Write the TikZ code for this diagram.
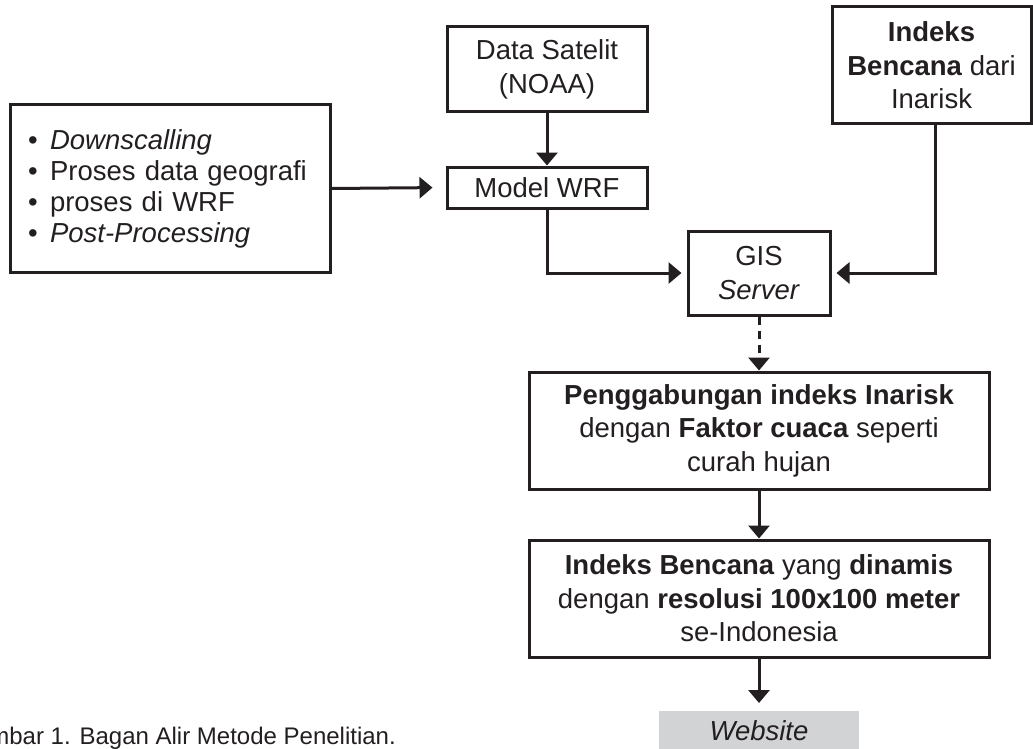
\documentclass[tikz,border=0pt]{standalone}
\usepackage{fontspec}
\setmainfont{Liberation Sans}
\usetikzlibrary{arrows.meta}
\definecolor{ink}{HTML}{231F20}
\definecolor{webgray}{HTML}{D1D3D4}
\newcommand{\blt}{\hspace*{8pt}\textbullet\hspace{12.4pt}}
\tikzset{
  flowbox/.style={draw=ink, line width=3pt, inner sep=0pt, align=center,
    text=ink, font=\fontsize{27.5}{33.5}\selectfont},
  link/.style={draw=ink, line width=3pt, -{Triangle[width=21pt,length=13pt]}},
  dashlink/.style={link, dash pattern=on 8pt off 6pt},
}
\begin{document}
\begin{tikzpicture}[x=1pt, y=-1pt]
\useasboundingbox (0,0) rectangle (1033,749);
\clip (0,0) rectangle (1033,749);

% process steps
\node[flowbox, minimum width=320pt, minimum height=167pt, align=left, text width=300pt,
  inner xsep=10pt, font=\fontsize{27.5}{31}\selectfont] (steps) at (170,188.5)
  {\blt\textit{Downscalling}\\
   \blt Proses data geografi\\
   \blt proses di WRF\\
   \blt\textit{Post-Processing}};
\node[flowbox, minimum width=200pt, minimum height=85pt] (sat) at (547,69.5)
  {Data Satelit\\(NOAA)};
\node[flowbox, minimum width=200pt, minimum height=41pt] (wrf) at (547,187.5)
  {Model WRF};
\node[flowbox, minimum width=199pt, minimum height=117pt] (idx) at (931.5,65.5)
  {\textbf{Indeks}\\\textbf{Bencana} dari\\Inarisk};
\node[flowbox, minimum width=142pt, minimum height=84pt] (gis) at (759,273)
  {GIS\\\textit{Server}};
\node[flowbox, minimum width=460pt, minimum height=117pt] (merge) at (759,430.5)
  {\textbf{Penggabungan indeks Inarisk}\\dengan \textbf{Faktor cuaca} seperti\\curah hujan};
\node[flowbox, minimum width=460pt, minimum height=117pt] (dyn) at (759,598.5)
  {\textbf{Indeks Bencana} yang \textbf{dinamis}\\dengan \textbf{resolusi 100x100 meter}\\se-Indonesia};
\node[fill=webgray, text=ink, inner sep=0pt, anchor=north, minimum width=200pt,
  text height=29pt, text depth=30pt, font=\fontsize{27.5}{33}\selectfont\itshape] (web) at (759,711)
  {Website};

% connectors
\coordinate (idxfoot) at (935,124);
\draw[link, shorten >=13pt] (steps.east) -- (wrf.west);
\draw[link] (sat.south) -- (wrf.north);
\draw[link, shorten >=5pt] (wrf.south) |- (gis.west);
\draw[link, shorten >=5pt] (idxfoot) |- (gis.east);
\draw[dashlink] (gis.south) -- (merge.north);
\draw[link] (merge.south) -- (dyn.north);
\draw[link, shorten >=8pt] (dyn.south) -- (web.north);

% caption
\node[anchor=base east, inner sep=0pt, text=ink, font=\fontsize{24}{28}\selectfont] (cap) at (396,744)
  {Gambar 1. Bagan Alir Metode Penelitian.};
\end{tikzpicture}
\end{document}
